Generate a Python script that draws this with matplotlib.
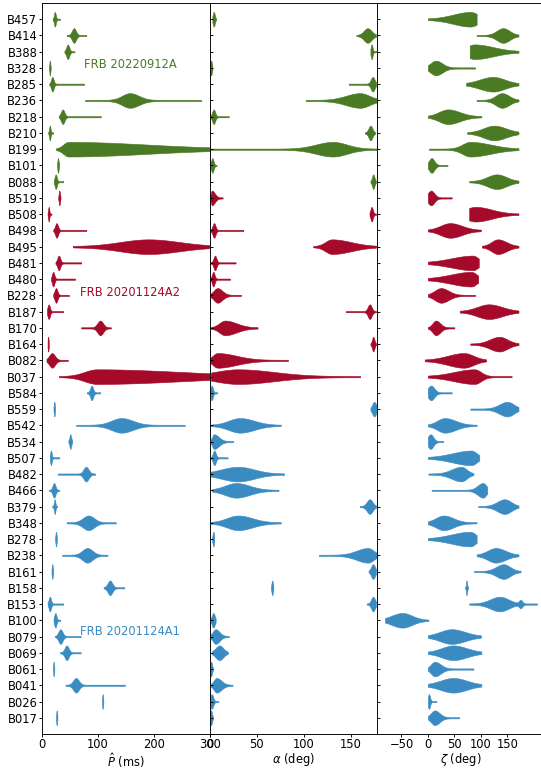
import numpy as np
import matplotlib.pyplot as plt

# bursts, top to bottom
names = ['B457', 'B414', 'B388', 'B328', 'B285', 'B236', 'B218', 'B210', 'B199', 'B101', 'B088',
         'B519', 'B508', 'B498', 'B495', 'B481', 'B480', 'B228', 'B187', 'B170', 'B164', 'B082', 'B037',
         'B584', 'B559', 'B542', 'B534', 'B507', 'B482', 'B466', 'B379', 'B348', 'B278', 'B238', 'B161',
         'B158', 'B153', 'B100', 'B079', 'B069', 'B061', 'B041', 'B026', 'B017']
group_sizes = [11, 12, 21]
group_colors = ['#4a7a24', '#a50a2a', '#3a8bc2']
group_labels = ['FRB 20220912A', 'FRB 20201124A2', 'FRB 20201124A1']

# P-hat (ms): peak, spread left/right of peak, min, max
p_peak = [23, 57, 46, 14, 18.5, 157, 37, 14, 47, 28.6, 24.5,
          31, 12, 26, 190, 30, 20, 25, 12, 104, 11, 18, 98,
          88.7, 22, 142, 50.6, 16, 78.6, 21.4, 22.6, 83, 25, 81, 18.4,
          121.4, 14, 23.8, 33, 44, 20.8, 60.7, 108.3, 26.2]
p_sl = [1.5, 3.5, 2.5, 0.8, 2.2, 14, 3, 1.2, 9, 1, 1.8,
        1, 1, 2.5, 50, 2.5, 2, 2.5, 2, 5, 0.8, 5, 22,
        2.5, 0.9, 18, 1.5, 1.3, 4.5, 2.5, 1.2, 10, 0.9, 9, 0.9,
        4, 2, 1.8, 3.5, 3.5, 0.8, 5, 0.8, 0.8]
p_sr = [1.5, 3.5, 2.5, 0.8, 2.2, 16, 3, 1.2, 140, 1, 1.8,
        1, 1, 2.5, 55, 2.5, 2, 2.5, 2, 5, 0.8, 5, 150,
        2.5, 0.9, 20, 1.5, 1.3, 4.5, 2.5, 1.2, 10, 0.9, 9, 0.9,
        4, 2, 1.8, 3.5, 3.5, 0.8, 5, 0.8, 0.8]
p_min = [19, 44, 40, 12.5, 13, 77, 30, 11, 25, 27, 21,
         29, 10, 20, 55, 24, 16, 20, 9, 70, 10, 8, 30,
         80, 20.5, 61, 47, 14, 28, 12, 18, 44, 23.5, 36, 17,
         110, 10, 20.7, 23, 32, 19.5, 42, 107, 25]
p_max = [32, 79, 58, 15.5, 75, 284, 105, 20, 420, 30.5, 38,
         33, 17, 79, 330, 70, 59, 48, 37.5, 123, 12, 46, 450,
         104, 23.5, 255, 54, 31, 95, 31, 27, 132, 26.5, 117, 20,
         147, 38, 32.7, 69, 69, 22, 148, 109.5, 27.5]

# alpha (deg)
a_peak = [4, 168, 172.3, 1.2, 173.4, 160, 3.9, 171, 131, 2.5, 174,
          2, 172.3, 4.3, 130, 5.3, 3.5, 8, 170.2, 16, 174, 8, 30,
          1.8, 175, 32, 4.3, 4.6, 30, 28, 170.2, 30, 3.5, 168.4, 173.8,
          66.3, 173.8, 3.5, 6, 10, 1.1, 7, 1.8, 1.1]
a_sl = [1, 4, 0.9, 0.8, 2, 15, 1.5, 2, 18, 1.2, 1.2,
        1, 1.2, 1.5, 7, 1.5, 1.3, 4, 2, 6, 1.2, 5, 25,
        1.2, 2, 12, 2, 1.5, 18, 12, 3, 12, 0.7, 12, 2,
        0.7, 2, 1.5, 3, 4, 1, 3, 1.5, 1]
a_sr = [1, 4, 0.9, 0.8, 2, 10, 1.5, 2, 15, 1.2, 1.2,
        3, 1.2, 1.5, 20, 1.5, 1.3, 5, 2, 12, 1.2, 20, 38,
        1.2, 2, 15, 5, 1.5, 17, 14, 3, 15, 0.7, 6, 2,
        0.7, 2, 1.5, 4, 4, 1, 5, 1.5, 1]
a_min = [2.5, 156, 171, 0, 148, 102, 0.5, 165, 0, 0, 171,
         0, 170, 0.5, 110, 0.5, 0, 0.5, 144.7, 1, 171, 0.5, 1,
         0, 171, 1, 0.5, 0.5, 0.5, 2, 159.6, 0.5, 2, 116, 169,
         65, 167, 0.5, 0.5, 2, 0, 0.5, 0, 0]
a_max = [6.5, 177, 177.7, 2.5, 177, 178, 20, 176, 178, 7, 177,
         13.5, 177, 35.5, 177, 27.3, 21.3, 33, 177, 50.7, 177, 83, 160,
         7.8, 177.5, 75.5, 24.8, 18.8, 79, 73, 177, 75.5, 4.5, 178, 177,
         67.5, 177, 6, 20, 19, 3, 24, 8.9, 3]

# zeta (deg)
z_peak = [80, 142, 88, 15, 123, 140, 38, 125, 80, 7, 130,
          6, 90, 42, 132, 85, 82, 25, 115, 15, 135, 68, 88,
          6, 150, 32, 5, 82, 63, 104, 145, 30, 80, 128, 143,
          73, 136, -48, 45, 48, 13, 48, 2, 13]
z_sl = [32, 12, 15, 10, 25, 12, 17, 20, 15, 5, 18,
        6, 20, 18, 12, 40, 38, 12, 22, 6, 18, 30, 38,
        6, 15, 14, 5, 35, 18, 10, 14, 15, 35, 15, 14,
        1, 18, 20, 22, 22, 7, 24, 2, 7]
z_sr = [15, 12, 35, 12, 22, 13, 22, 22, 38, 5, 18,
        6, 30, 22, 16, 10, 10, 14, 25, 8, 15, 18, 12,
        6, 12, 20, 5, 10, 10, 6, 12, 18, 10, 18, 12,
        1, 16, 18, 25, 25, 11, 25, 2, 9]
z_min = [0, 92, 79, 0, 72, 92, 0, 74, 2, 0, 78,
         0, 78, 0, 102, 0, 0, 0, 60, 0, 80, -6, 0,
         0, 80, 0, 0, 0, 1, 7, 95, 0, 0, 92, 87,
         70, 78, -81, 0, 0, 0, 0, 0, 0]
z_max = [92, 171, 171, 89, 171, 171, 101, 171, 171, 37, 171,
         45, 171, 100, 171, 96, 95, 89, 171, 50, 171, 110, 158,
         45, 171, 92, 29, 97, 86, 112, 171, 92, 92, 171, 175,
         76, 206, 1, 100, 101, 86, 101, 16, 59]
# second small peak seen in B153 zeta: (burst, centre, spread, height)
z_bump = {'B153': (175, 3, 0.5)}


def violin_stats(peak, sl, sr, lo, hi, bump=None):
    x = np.linspace(lo, hi, 400)
    s = np.where(x < peak, sl, sr)
    d = np.exp(-0.5 * ((x - peak) / s) ** 2) + 0.09
    if bump is not None:
        c, w, h = bump
        d = d + h * np.exp(-0.5 * ((x - c) / w) ** 2)
    return {'coords': x, 'vals': d, 'mean': peak, 'median': peak, 'min': lo, 'max': hi}


colors = []
for size, col in zip(group_sizes, group_colors):
    colors += [col] * size

n = len(names)
ypos = np.arange(n)[::-1]

plt.rcParams['font.size'] = 10
fig = plt.figure(figsize=(541 / 83, 768 / 83), dpi=83)
bottom, height = 34 / 768, 731 / 768
ax1 = fig.add_axes([42 / 541, bottom, 168 / 541, height])
ax2 = fig.add_axes([210 / 541, bottom, 167 / 541, height])
ax3 = fig.add_axes([377 / 541, bottom, 168 / 541, height])

panels = [
    (ax1, p_peak, p_sl, p_sr, p_min, p_max, {}),
    (ax2, a_peak, a_sl, a_sr, a_min, a_max, {}),
    (ax3, z_peak, z_sl, z_sr, z_min, z_max, z_bump),
]
for ax, pk, sl, sr, lo, hi, bumps in panels:
    stats = [violin_stats(pk[i], sl[i], sr[i], lo[i], hi[i], bumps.get(names[i]))
             for i in range(n)]
    parts = ax.violin(stats, positions=ypos, orientation='horizontal', widths=0.9,
                      showextrema=False)
    for body, col in zip(parts['bodies'], colors):
        body.set_facecolor(col)
        body.set_edgecolor(col)
        body.set_linewidth(0.5)
        body.set_alpha(1)
    ax.set_ylim(-1, n)
    ax.set_yticks(ypos)
    ax.tick_params(axis='y', length=2.6, pad=1.5)
    ax.tick_params(axis='x', length=2.6, pad=0.5)

ax1.set_yticklabels(names)
ax1.set_xlim(0, 300)
ax1.set_xticks([0, 100, 200, 300])
ax1.set_xlabel(r'$\hat{P}$ (ms)', labelpad=0)

ax2.set_xlim(0, 178)
ax2.set_xticks([0, 50, 100, 150])
ax2.set_xlabel(r'$\alpha$ (deg)', labelpad=0)

ax3.set_xlim(-96, 221)
ax3.set_xticks([-50, 0, 50, 100, 150])
ax3.set_xlabel(r'$\zeta$ (deg)', labelpad=0)

for ax in (ax2, ax3):
    ax.set_yticklabels([])
    ax.tick_params(axis='y', direction='in')

ax1.text(75, 40.24, group_labels[0], color=group_colors[0], va='center')
ax1.text(68, 26.2, group_labels[1], color=group_colors[1], va='center')
ax1.text(68, 5.3, group_labels[2], color=group_colors[2], va='center')

fig.savefig('out.png', dpi=83)
